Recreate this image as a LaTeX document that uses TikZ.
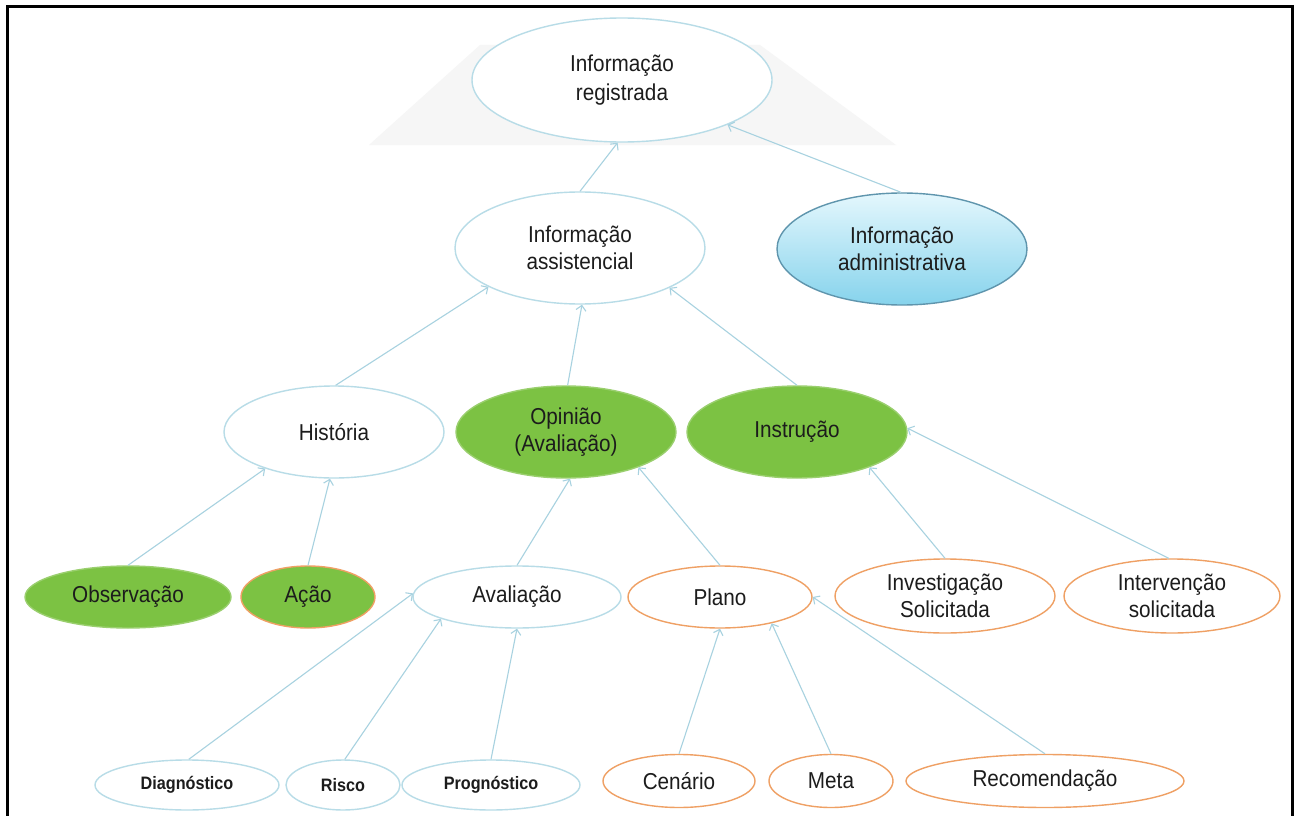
\documentclass[tikz,border=0pt]{standalone}
\usepackage{fontspec}
\setmainfont{Liberation Sans}[FakeStretch=0.9]
\usetikzlibrary{shapes.geometric,arrows.meta}
\definecolor{lblue}{HTML}{B8DCE7}
\definecolor{arrc}{HTML}{A8D2E0}
\definecolor{orng}{HTML}{EFA064}
\definecolor{grn}{HTML}{7CC243}
\definecolor{grnb}{HTML}{9ACF6E}
\definecolor{admtop}{HTML}{E4F7FD}
\definecolor{admbot}{HTML}{86D3EC}
\definecolor{admb}{HTML}{5F95AD}
\definecolor{txt}{HTML}{1C1C1C}
\definecolor{bgtint}{HTML}{F6F6F6}
\tikzset{
  ell/.style={ellipse, inner sep=0pt, line width=1.4pt, align=center, text=txt,
              font=\fontsize{23}{27}\selectfont},
  blueell/.style={ell, draw=lblue, fill=white},
  orangeell/.style={ell, draw=orng, fill=white},
  greenell/.style={ell, draw=grnb, fill=grn},
  smallbold/.style={font=\fontsize{18}{20}\selectfont\bfseries},
  arr/.style={draw=arrc, line width=1.1pt, -{Straight Barb[length=5pt,width=10pt]}},
}
\begin{document}
\begin{tikzpicture}[x=1pt,y=-1pt]
\useasboundingbox (0,0) rectangle (1302,816);
\fill[white] (0,0) rectangle (1302,816);
% faint backdrop
\fill[fill=bgtint] (369,145) -- (480,45) -- (760,45) -- (896,145) -- cycle;
% frame
\draw[line width=3pt] (7,816) -- (7,7) -- (1292,7) -- (1292,816);

% nodes
\node[blueell, font=\fontsize{23}{29}\selectfont, minimum width=300, minimum height=124] (reg) at (622,80) {Informação\\registrada};
\node[blueell, minimum width=250, minimum height=112] (asst) at (580,248) {Informação\\assistencial};
\node[ell, draw=admb, top color=admtop, bottom color=admbot, minimum width=250, minimum height=112] (adm) at (902,249) {Informação\\administrativa};

\node[blueell, minimum width=220, minimum height=92] (hist) at (334,432) {História};
\node[greenell, minimum width=220, minimum height=92] (opin) at (566,432) {Opinião\\(Avaliação)};
\node[greenell, minimum width=220, minimum height=92] (instr) at (797,432) {Instrução};

\node[greenell, minimum width=206, minimum height=62] (obs) at (128,597) {Observação};
\node[ell, draw=orng, fill=grn, minimum width=134, minimum height=62] (acao) at (308,597) {Ação};
\node[blueell, minimum width=208, minimum height=62] (aval) at (517,597) {Avaliação};
\node[orangeell, minimum width=184, minimum height=62] (plano) at (720,597) {Plano};
\node[orangeell, minimum width=220, minimum height=74] (invest) at (945,596) {Investigação\\Solicitada};
\node[orangeell, minimum width=216, minimum height=74] (interv) at (1172,596) {Intervenção\\solicitada};

\node[blueell, smallbold, minimum width=184, minimum height=50] (diag) at (187,785) {Diagnóstico};
\node[blueell, smallbold, minimum width=114, minimum height=50] (risco) at (343,785) {Risco};
\node[blueell, smallbold, minimum width=178, minimum height=50] (prog) at (491,785) {Prognóstico};
\node[orangeell, minimum width=152, minimum height=53] (cen) at (679,781) {Cenário};
\node[orangeell, minimum width=124, minimum height=53] (meta) at (831,781) {Meta};
\node[orangeell, minimum width=278, minimum height=53] (recom) at (1045,781) {Recomendação};

% connectors
\draw[arr] (asst.north) -- (reg.266);
\draw[arr] (adm.91) -- (reg.337);
\draw[arr] (hist.88) -- (asst.203);
\draw[arr] (opin.88) -- (asst.272);
\draw[arr] (instr.north) -- (asst.336);
\draw[arr] (obs.north) -- (hist.208);
\draw[arr] (acao.north) -- (hist.265);
\draw[arr] (aval.north) -- (opin.275);
\draw[arr] (plano.north) -- (opin.334);
\draw[arr] (invest.north) -- (instr.334);
\draw[arr] (interv.95) -- (instr.2);
\draw[arr] (diag.86) -- (aval.178);
\draw[arr] (risco.86) -- (aval.196);
\draw[arr] (prog.north) -- (aval.south);
\draw[arr] (cen.north) -- (plano.south);
\draw[arr] (meta.north) -- (plano.333);
\draw[arr] (recom.north) -- (plano.east);
\end{tikzpicture}
\end{document}
